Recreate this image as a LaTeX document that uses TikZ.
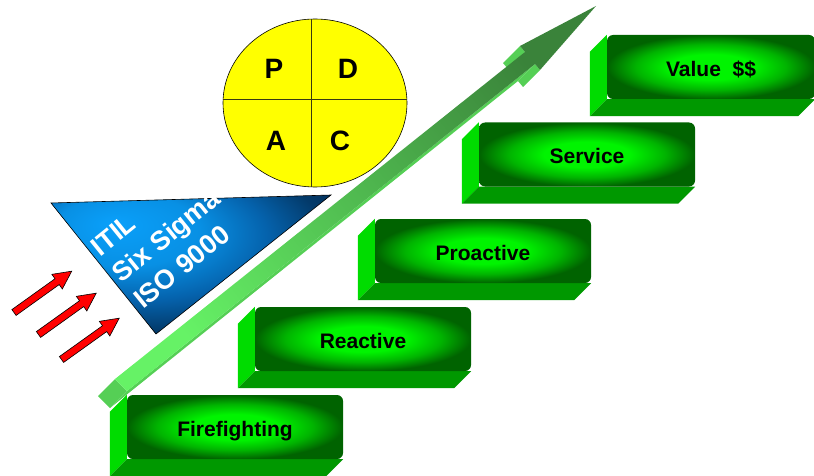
\documentclass[tikz,border=0pt]{standalone}
\usepackage{fontspec}
\setmainfont{Liberation Sans}
\usetikzlibrary{shapes.geometric,backgrounds,calc}
\definecolor{gbright}{HTML}{00F400}
\definecolor{gmid}{HTML}{00B400}
\definecolor{gdark}{HTML}{006300}
\definecolor{gleft}{HTML}{00DC00}
\definecolor{gbottom}{HTML}{009800}
\definecolor{arlight}{HTML}{66F266}
\definecolor{ardark}{HTML}{3A833A}
\definecolor{arside}{HTML}{55CF55}
\definecolor{triA}{HTML}{0AA0FA}
\definecolor{triB}{HTML}{0890E4}
\definecolor{triC}{HTML}{0562AC}
\definecolor{triD}{HTML}{033A6A}
\definecolor{triE}{HTML}{022A50}
\definecolor{pdcayellow}{HTML}{FFFF00}
\definecolor{crossline}{HTML}{3A3A10}
\pgfdeclareradialshading{stepshade}{\pgfpoint{0bp}{0bp}}{color(0bp)=(gbright); color(10bp)=(gbright); color(18bp)=(gmid); color(25bp)=(gdark); color(50bp)=(gdark)}
\pgfdeclareradialshading{trishade}{\pgfpoint{-14bp}{15bp}}{color(0bp)=(triA); color(13bp)=(triB); color(23bp)=(triC); color(32bp)=(triD); color(42bp)=(triE); color(70bp)=(triE)}
\begin{document}
\begin{tikzpicture}[x=1pt,y=-1pt,
  stepface/.style={rectangle, rounded corners=6pt, shade, shading=stepshade,
    minimum width=216pt, minimum height=64pt, inner sep=0pt, text=black,
    font=\fontsize{21}{24}\selectfont\bfseries, text height=19pt, text depth=0pt},
  leftface/.style={fill=gleft},
  bottomface/.style={fill=gbottom},
  redarrow/.style={fill=red, draw=black, line width=0.6pt, line join=miter},
  pdcaletter/.style={font=\fontsize{28}{30}\selectfont\bfseries, text height=20pt, text depth=0pt, inner sep=0pt},
  tritext/.style={text=white, font=\fontsize{27}{34}\selectfont\bfseries, align=left, rotate=39, anchor=base west, inner sep=0pt}]
\useasboundingbox (0,0) rectangle (814,476);

% blue triangle
\shadedraw[shading=trishade, draw=black, line width=0.6pt] (51,203) -- (331,195) -- (156,334) -- cycle;
\node[tritext] (tri) at (143,310) {ITIL\\Six Sigma\\ISO 9000};

% big green 3D arrow
\fill[arside] (115,379) -- (127,391) -- (110,408) -- (98,396) -- cycle;
\fill[arside] (127,391) -- (535,64) -- (518,81) -- (110,408) -- cycle;
\fill[arside] (535,64) -- (540,70) -- (523,87) -- (518,81) -- cycle;
\fill[arside] (520,46) -- (525,52) -- (508,69) -- (503,63) -- cycle;
\shade[top color=ardark, bottom color=arlight, shading angle=-51.3]
  (115,379) -- (525,52) -- (520,46) -- (596,6) -- (540,70) -- (535,64) -- (127,391) -- cycle;

% red arrows
\foreach \x/\y in {14/312.5, 38.5/334.5, 61.5/359.5}
  \draw[redarrow, shift={(\x,\y)}, rotate=35.6]
    (0pt,-3.6pt) -- (53pt,-3.6pt) -- (53pt,-9pt) -- (71pt,0pt) -- (53pt,9pt) -- (53pt,3.6pt) -- (0pt,3.6pt) -- cycle;

% PDCA circle
\node[ellipse, draw=black, fill=pdcayellow, line width=0.6pt, minimum width=184pt, minimum height=168pt, inner sep=0pt] (pdca) at (315,103) {};
\draw[crossline, line width=0.8pt] ($(pdca.north)+(-4,0)$) -- ($(pdca.south)+(-4,0)$);
\draw[crossline, line width=0.8pt] ($(pdca.west)+(0,-4)$) -- ($(pdca.east)+(0,-4)$);
\node[pdcaletter] (p) at (274,69) {P};
\node[pdcaletter] (d) at (348,69) {D};
\node[pdcaletter] (a) at (276,141) {A};
\node[pdcaletter] (c) at (340,141) {C};

% steps
\node[stepface] (ff) at (235,427) {Firefighting};
\node[stepface] (re) at (363,339) {Reactive};
\node[stepface] (pr) at (483,251) {Proactive};
\node[stepface] (se) at (587,154.5) {Service};
\node[stepface, minimum width=208pt] (va) at (711,67) {Value\ \ \$\$};
\begin{scope}[on background layer]
\foreach \n in {ff,re,pr,se,va}{
  \fill[leftface] (\n.north west) -- (\n.south west) -- ++(-17,17) -- ($(\n.north west)+(-17,17)$) -- cycle;
  \fill[bottomface] (\n.south west) -- (\n.south east) -- ++(-17,17) -- ($(\n.south west)+(-17,17)$) -- cycle;
}
\end{scope}
\end{tikzpicture}
\end{document}
